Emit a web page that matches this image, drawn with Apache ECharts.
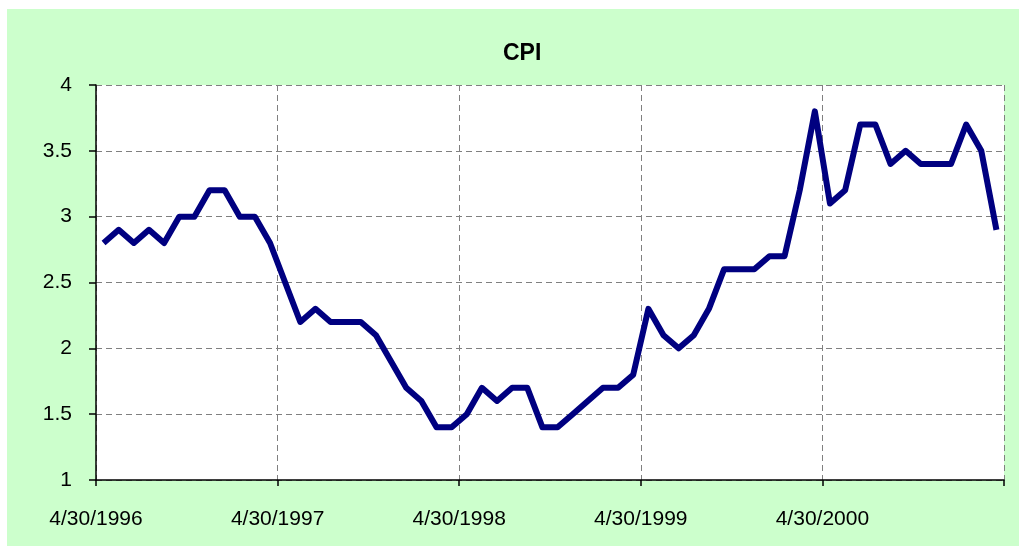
<!DOCTYPE html>
<html>
<head>
<meta charset="utf-8">
<title>CPI</title>
<script src="https://cdn.jsdelivr.net/npm/echarts@6/dist/echarts.min.js"></script>
<style>
  html, body { margin: 0; padding: 0; background: #fff; }
  #chart { width: 1019px; height: 546px; }
</style>
</head>
<body>
<div id="chart"></div>
<script>
// monthly CPI (%), one point per month starting mid-May 1996
const cpi = [
  2.8, 2.9, 2.8, 2.9, 2.8, 3.0, 3.0, 3.2, 3.2, 3.0, 3.0, 2.8,
  2.5, 2.2, 2.3, 2.2, 2.2, 2.2, 2.1, 1.9, 1.7, 1.6, 1.4, 1.4,
  1.5, 1.7, 1.6, 1.7, 1.7, 1.4, 1.4, 1.5, 1.6, 1.7, 1.7, 1.8,
  2.3, 2.1, 2.0, 2.1, 2.3, 2.6, 2.6, 2.6, 2.7, 2.7, 3.2, 3.8,
  3.1, 3.2, 3.7, 3.7, 3.4, 3.5, 3.4, 3.4, 3.4, 3.7, 3.5, 2.9
];
// x tick labels, one per year (axis ends at 4/30/2001 without a label)
const xTickLabels = ["4/30/1996", "4/30/1997", "4/30/1998", "4/30/1999", "4/30/2000", ""];
const yTicks = [1, 1.5, 2, 2.5, 3, 3.5, 4];

// x = months since 4/30/1996, points sit mid-month
const points = cpi.map((v, i) => [i + 0.5, v]);

const chart = echarts.init(document.getElementById("chart"));
chart.setOption({
  backgroundColor: "#fff",
  animation: false,
  graphic: [
    {
      type: "rect",
      z: -10,
      shape: { x: 7, y: 9, width: 1012, height: 537 },
      style: { fill: "#ccffcc" },
    },
  ],
  title: {
    text: "CPI",
    left: 498,
    top: 37,
    textStyle: {
      fontFamily: "Liberation Sans",
      fontWeight: "bold",
      fontSize: 23,
      color: "#000",
    },
  },
  grid: {
    left: 96,
    right: 15,
    top: 85,
    bottom: 66,
    show: true,
    backgroundColor: "#fff",
    borderWidth: 0,
  },
  xAxis: {
    type: "value",
    min: 0,
    max: 60,
    interval: 12,
    axisLine: { lineStyle: { color: "#000", width: 1.5 } },
    axisTick: { show: true, length: 6, lineStyle: { color: "#000", width: 1.5 } },
    axisLabel: {
      margin: 29,
      color: "#000",
      fontFamily: "Liberation Sans",
      fontSize: 21,
      showMaxLabel: true,
      formatter: (v) => xTickLabels[Math.round(v / 12)] || "",
    },
    splitLine: {
      show: true,
      lineStyle: { color: "#808080", type: [6, 4], width: 1 },
    },
  },
  yAxis: {
    type: "value",
    min: yTicks[0],
    max: yTicks[yTicks.length - 1],
    interval: 0.5,
    axisLine: { show: true, lineStyle: { color: "#000", width: 1.5 } },
    axisTick: { show: true, length: 7, lineStyle: { color: "#000", width: 1.5 } },
    axisLabel: {
      margin: 24,
      color: "#000",
      fontFamily: "Liberation Sans",
      fontSize: 21,
    },
    splitLine: {
      show: true,
      lineStyle: { color: "#808080", type: [6, 4], width: 1 },
    },
  },
  series: [
    {
      name: "CPI",
      type: "line",
      data: points,
      showSymbol: false,
      lineStyle: { color: "#000080", width: 6, join: "round", cap: "butt" },
    },
  ],
});
</script>
</body>
</html>
